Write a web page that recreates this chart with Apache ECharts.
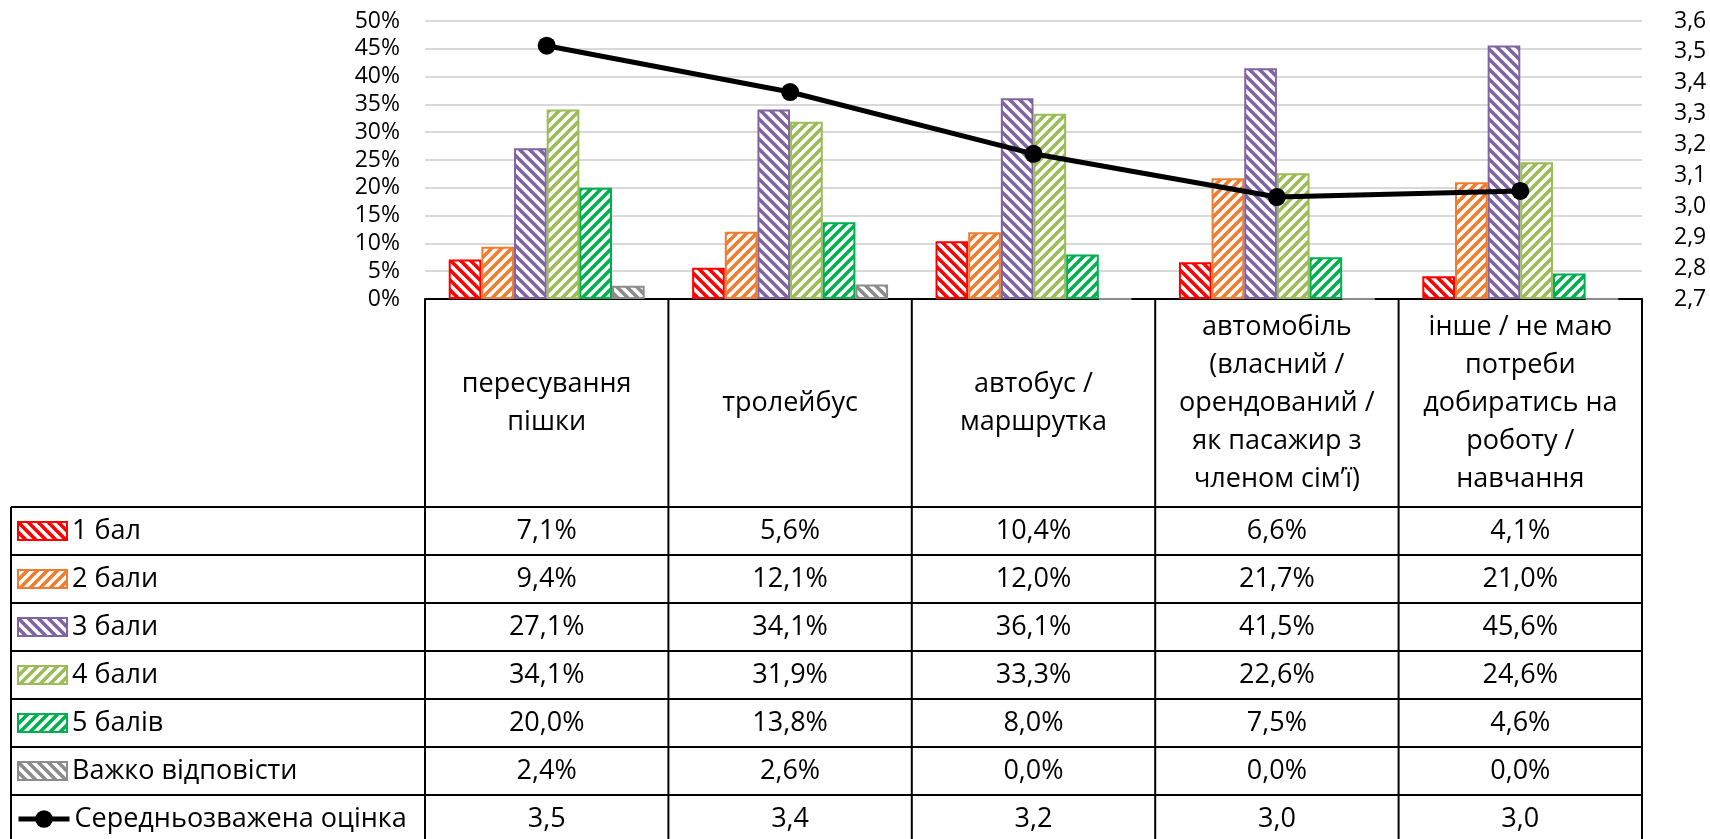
<!DOCTYPE html>
<html><head><meta charset="utf-8">
<script src="https://cdn.jsdelivr.net/npm/echarts@6/dist/echarts.min.js"></script>
<style>html,body{margin:0;padding:0;background:#fff}#c{width:1710px;height:839px}</style>
</head><body><div id="c"></div>
<script>
// ---- data ----
const categories = [
  'пересування\nпішки',
  'тролейбус',
  'автобус /\nмаршрутка',
  'автомобіль\n(власний /\nорендований /\nяк пасажир з\nчленом сім’ї)',
  'інше / не маю\nпотреби\nдобиратись на\nроботу /\nнавчання'
];
const barNames = ['1 бал', '2 бали', '3 бали', '4 бали', '5 балів', 'Важко відповісти'];
const score1 = [7.1, 5.6, 10.4, 6.6, 4.1];
const score2 = [9.4, 12.1, 12.0, 21.7, 21.0];
const score3 = [27.1, 34.1, 36.1, 41.5, 45.6];
const score4 = [34.1, 31.9, 33.3, 22.6, 24.6];
const score5 = [20.0, 13.8, 8.0, 7.5, 4.6];
const hardToSay = [2.4, 2.6, 0.0, 0.0, 0.0];
const avgName = 'Середньозважена оцінка';
const avgScore = [3.52, 3.37, 3.17, 3.03, 3.05];
const leftAxisTicks = [0, 50, 5];      // min, max, step (%)
const rightAxisTicks = [2.7, 3.6, 0.1]; // min, max, step

// ---- styles ----
const FONT = 'Open Sans';
const barColors = ['#FF0000', '#ED7D31', '#8064A2', '#9BBB59', '#00B050', '#8C8C8C'];
const stripeDir = ['\\', '/', '\\', '/', '/', '\\'];
const barValues = [score1, score2, score3, score4, score5, hardToSay];

function makePattern(color, dir) {
  const s = 10;
  const c = document.createElement('canvas');
  c.width = s; c.height = s;
  const g = c.getContext('2d');
  g.fillStyle = '#fff'; g.fillRect(0, 0, s, s);
  g.strokeStyle = color; g.lineWidth = 3.6; g.lineCap = 'square';
  for (const o of [-s, 0, s]) {
    g.beginPath();
    if (dir === '\\') { g.moveTo(o, 0); g.lineTo(o + s, s); }
    else { g.moveTo(o, s); g.lineTo(o + s, 0); }
    g.stroke();
  }
  return { image: c, repeat: 'repeat' };
}

const GRID_L = 425, GRID_R = 1642, GRID_T = 21, AXIS_Y = 299;
const HEADER_B = 507, ROW_H = 48, TABLE_L = 11, H = 839;

const chart = echarts.init(document.getElementById('c'), null, { renderer: 'canvas' });

const series = barNames.map((n, i) => ({
  name: n, type: 'bar', data: barValues[i],
  barGap: 0, barCategoryGap: '19.5%',
  itemStyle: { color: makePattern(barColors[i], stripeDir[i]), borderColor: barColors[i], borderWidth: 2 },
  emphasis: { disabled: true }
}));
series.push({
  name: avgName, type: 'line', yAxisIndex: 1, data: avgScore, z: 5,
  symbol: 'circle', symbolSize: 18,
  lineStyle: { color: '#000', width: 5 },
  itemStyle: { color: '#000' },
  emphasis: { disabled: true }
});

const allNames = barNames.concat([avgName]);
const legends = allNames.map((n, r) => {
  const isLine = r >= barNames.length;
  const l = {
    data: [n], orient: 'vertical', left: isLine ? 16 : 17,
    top: HEADER_B + r * ROW_H + ROW_H / 2 - 15,
    padding: 0, itemWidth: isLine ? 51 : 49, itemHeight: isLine ? 22 : 18, itemGap: 0,
    textStyle: { fontFamily: FONT, fontSize: 27, lineHeight: 30, color: '#000', padding: [0, 0, 0, 0] },
    selectedMode: false
  };
  if (!isLine) l.icon = 'rect';
  else l.lineStyle = { width: 5, color: '#000' };
  return l;
});

chart.setOption({
  animation: false,
  backgroundColor: '#fff',
  grid: { left: GRID_L, right: 1710 - GRID_R, top: GRID_T, bottom: H - AXIS_Y, containLabel: false },
  legend: legends,
  xAxis: {
    type: 'category', data: categories,
    axisLine: { show: true, lineStyle: { color: '#000', width: 2 } },
    axisTick: { show: false }, axisLabel: { show: false }
  },
  yAxis: [
    {
      type: 'value', min: leftAxisTicks[0], max: leftAxisTicks[1], interval: leftAxisTicks[2],
      axisLine: { show: false }, axisTick: { show: false },
      splitLine: { lineStyle: { color: '#D9D9D9', width: 2 } },
      axisLabel: { formatter: v => v + '%', fontFamily: FONT, fontSize: 23, color: '#000', margin: 25 }
    },
    {
      type: 'value', min: rightAxisTicks[0], max: rightAxisTicks[1], interval: rightAxisTicks[2],
      axisLine: { show: false }, axisTick: { show: false }, splitLine: { show: false },
      axisLabel: { formatter: v => v.toFixed(1).replace('.', ','), fontFamily: FONT, fontSize: 23, color: '#000', margin: 32 }
    }
  ],
  series: series
});

// ---- data table ----
const fmtPct = v => v.toFixed(1).replace('.', ',') + '%';
const fmtNum = v => v.toFixed(1).replace('.', ',');
const colW = (GRID_R - GRID_L) / categories.length;
const g = [];
const lineStyle = { stroke: '#000', lineWidth: 2 };
for (let k = 0; k <= categories.length; k++) {
  const x = GRID_L + k * colW;
  g.push({ type: 'line', shape: { x1: x, y1: AXIS_Y, x2: x, y2: H }, style: lineStyle, silent: true });
}
g.push({ type: 'line', shape: { x1: TABLE_L, y1: HEADER_B, x2: TABLE_L, y2: H }, style: lineStyle, silent: true });
for (let r = 0; r < allNames.length; r++) {
  const y = HEADER_B + r * ROW_H;
  g.push({ type: 'line', shape: { x1: TABLE_L, y1: y, x2: GRID_R, y2: y }, style: lineStyle, silent: true });
}
categories.forEach((c, i) => {
  const cx = chart.convertToPixel({ xAxisIndex: 0 }, i);
  g.push({ type: 'text', x: cx, y: (AXIS_Y + HEADER_B) / 2, silent: true,
    style: { text: c, align: 'center', verticalAlign: 'middle', font: '27px "' + FONT + '"', lineHeight: 38, fill: '#000' } });
  const rowVals = barValues.map(arr => fmtPct(arr[i])).concat([fmtNum(avgScore[i])]);
  rowVals.forEach((t, r) => {
    g.push({ type: 'text', x: cx, y: HEADER_B + r * ROW_H + ROW_H / 2, silent: true,
      style: { text: t, align: 'center', verticalAlign: 'middle', font: '27px "' + FONT + '"', fill: '#000' } });
  });
});
chart.setOption({ graphic: g });
</script>
</body></html>
